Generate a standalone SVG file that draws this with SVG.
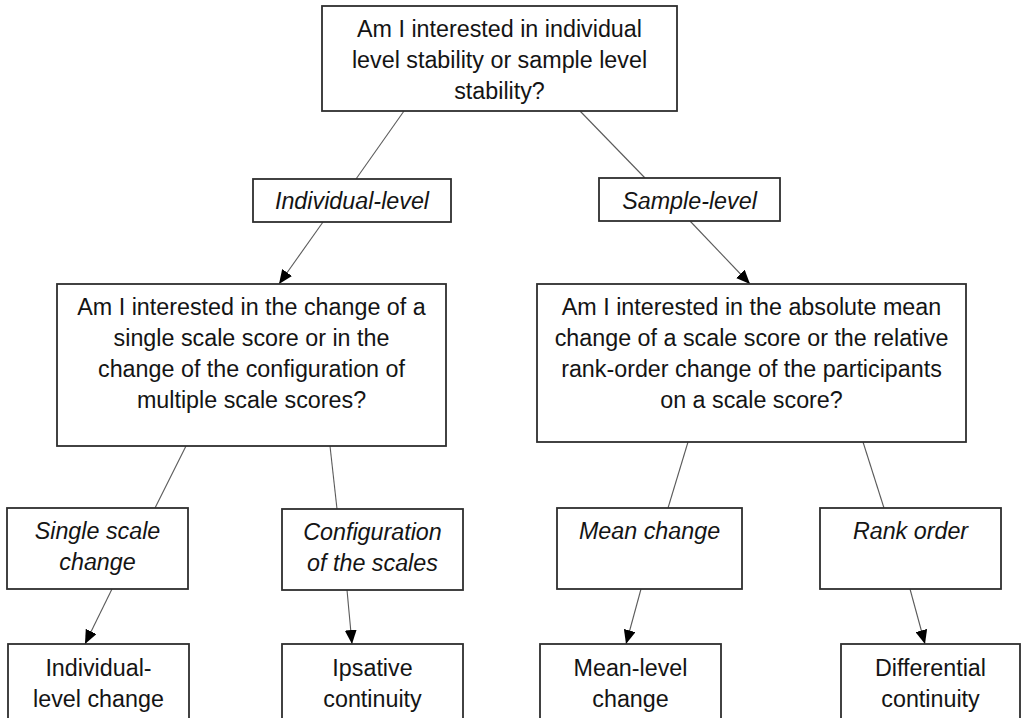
<svg xmlns="http://www.w3.org/2000/svg" width="1022" height="718" viewBox="0 0 1022 718">
<style>
  .box { fill: #ffffff; stroke: #2e2e2e; stroke-width: 1.8; }
  .t { font-family: "Liberation Sans", Arial, sans-serif; font-size: 23.3px; fill: #141414; text-anchor: middle; }
  .i { font-style: italic; }
  .conn { stroke: #5a5a5a; stroke-width: 1.1; fill: none; }
</style>
<defs>
  <marker id="arrow" viewBox="0 0 14 12" refX="14" refY="6" markerWidth="14" markerHeight="12" markerUnits="userSpaceOnUse" orient="auto">
    <path d="M0,0 L14,6 L0,12 Z" fill="#000000"/>
  </marker>
</defs>
<rect width="1022" height="718" fill="#ffffff"/>

<g id="connectors">
  <line class="conn" x1="404" y1="111" x2="356" y2="179"/>
  <line class="conn" x1="580" y1="111" x2="645" y2="178"/>
  <line class="conn" x1="323" y1="222" x2="279" y2="284" marker-end="url(#arrow)"/>
  <line class="conn" x1="690" y1="221" x2="750" y2="284" marker-end="url(#arrow)"/>
  <line class="conn" x1="186" y1="446" x2="155" y2="508"/>
  <line class="conn" x1="330" y1="446" x2="337" y2="509"/>
  <line class="conn" x1="688" y1="442" x2="668" y2="508"/>
  <line class="conn" x1="863" y1="442" x2="884" y2="508"/>
  <line class="conn" x1="112" y1="589" x2="85" y2="644" marker-end="url(#arrow)"/>
  <line class="conn" x1="347" y1="590" x2="352" y2="644" marker-end="url(#arrow)"/>
  <line class="conn" x1="641" y1="589" x2="626" y2="644" marker-end="url(#arrow)"/>
  <line class="conn" x1="910" y1="589" x2="925" y2="644" marker-end="url(#arrow)"/>
</g>

<g id="root">
  <rect class="box" x="322" y="6" width="355" height="105"/>
  <text class="t" x="499.5" y="37">Am I interested in individual</text>
  <text class="t" x="499.5" y="68">level stability or sample level</text>
  <text class="t" x="499.5" y="99">stability?</text>
</g>

<g id="individual-level">
  <rect class="box" x="253" y="179" width="198" height="43"/>
  <text class="t i" x="352" y="209">Individual-level</text>
</g>

<g id="sample-level">
  <rect class="box" x="599" y="178" width="181" height="43"/>
  <text class="t i" x="689.5" y="209">Sample-level</text>
</g>

<g id="q-individual">
  <rect class="box" x="57" y="284" width="389" height="162"/>
  <text class="t" x="251.5" y="315">Am I interested in the change of a</text>
  <text class="t" x="251.5" y="346">single scale score or in the</text>
  <text class="t" x="251.5" y="377">change of the configuration of</text>
  <text class="t" x="251.5" y="408">multiple scale scores?</text>
</g>

<g id="q-sample">
  <rect class="box" x="537" y="284" width="429" height="158"/>
  <text class="t" x="751.5" y="315">Am I interested in the absolute mean</text>
  <text class="t" x="751.5" y="346">change of a scale score or the relative</text>
  <text class="t" x="751.5" y="377">rank-order change of the participants</text>
  <text class="t" x="751.5" y="408">on a scale score?</text>
</g>

<g id="single-scale-change">
  <rect class="box" x="7" y="508" width="181" height="81"/>
  <text class="t i" x="97.5" y="539">Single scale</text>
  <text class="t i" x="97.5" y="570">change</text>
</g>

<g id="configuration">
  <rect class="box" x="282" y="509" width="181" height="81"/>
  <text class="t i" x="372.5" y="540">Configuration</text>
  <text class="t i" x="372.5" y="571">of the scales</text>
</g>

<g id="mean-change">
  <rect class="box" x="557" y="508" width="185" height="81"/>
  <text class="t i" x="649.5" y="539">Mean change</text>
</g>

<g id="rank-order">
  <rect class="box" x="820" y="508" width="181" height="81"/>
  <text class="t i" x="910.5" y="539">Rank order</text>
</g>

<g id="individual-level-change">
  <rect class="box" x="8" y="644" width="181" height="90"/>
  <text class="t" x="98.5" y="676">Individual-</text>
  <text class="t" x="98.5" y="707">level change</text>
</g>

<g id="ipsative-continuity">
  <rect class="box" x="282" y="644" width="181" height="90"/>
  <text class="t" x="372.5" y="676">Ipsative</text>
  <text class="t" x="372.5" y="707">continuity</text>
</g>

<g id="mean-level-change">
  <rect class="box" x="540" y="644" width="181" height="90"/>
  <text class="t" x="630.5" y="676">Mean-level</text>
  <text class="t" x="630.5" y="707">change</text>
</g>

<g id="differential-continuity">
  <rect class="box" x="841" y="644" width="179" height="90"/>
  <text class="t" x="930.5" y="676">Differential</text>
  <text class="t" x="930.5" y="707">continuity</text>
</g>
</svg>
